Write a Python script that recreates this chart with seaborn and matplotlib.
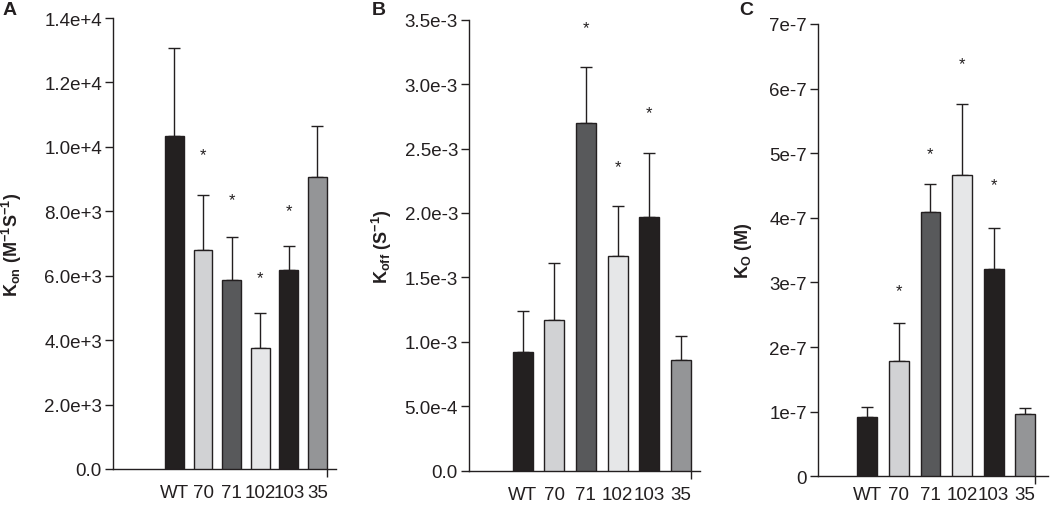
import matplotlib
matplotlib.use("Agg")
import matplotlib.pyplot as plt
import seaborn as sns
import pandas as pd
import numpy as np
from matplotlib.ticker import FixedLocator, FixedFormatter

# ---------------- data ----------------
categories = ["WT", "70", "71", "102", "103", "35"]
bar_colors = ["#231f20", "#d1d2d4", "#58595b", "#e6e7e8", "#231f20", "#939598"]

kon_mean = [10330, 6800, 5880, 3765, 6170, 9050]
kon_err = [2740, 1720, 1335, 1075, 745, 1590]
kon_star = [None, 9750, 8370, 5930, 8025, None]
kon_ticks = [0, 2000, 4000, 6000, 8000, 10000, 12000, 14000]
kon_ticklabels = ["0.0", "2.0e+3", "4.0e+3", "6.0e+3", "8.0e+3", "1.0e+4", "1.2e+4", "1.4e+4"]

koff_mean = [0.923e-3, 1.167e-3, 2.697e-3, 1.663e-3, 1.966e-3, 0.861e-3]
koff_err = [0.316e-3, 0.444e-3, 0.433e-3, 0.393e-3, 0.496e-3, 0.186e-3]
koff_star = [None, None, 3.44e-3, 2.358e-3, 2.775e-3, None]
koff_ticks = [0, 0.5e-3, 1.0e-3, 1.5e-3, 2.0e-3, 2.5e-3, 3.0e-3, 3.5e-3]
koff_ticklabels = ["0.0", "5.0e-4", "1.0e-3", "1.5e-3", "2.0e-3", "2.5e-3", "3.0e-3", "3.5e-3"]

kd_mean = [0.913e-7, 1.78e-7, 4.096e-7, 4.66e-7, 3.204e-7, 0.96e-7]
kd_err = [0.155e-7, 0.593e-7, 0.424e-7, 1.10e-7, 0.636e-7, 0.10e-7]
kd_star = [None, 2.88e-7, 5.0e-7, 6.38e-7, 4.52e-7, None]
kd_ticks = [0, 1e-7, 2e-7, 3e-7, 4e-7, 5e-7, 6e-7, 7e-7]
kd_ticklabels = ["0", "1e-7", "2e-7", "3e-7", "4e-7", "5e-7", "6e-7", "7e-7"]

panel_letters = ["A", "B", "C"]
ylabels = [r"$\mathbf{K_{on}\ (M^{-1}S^{-1})}$",
           r"$\mathbf{K_{off}\ (S^{-1})}$",
           r"$\mathbf{K_{O}\ (M)}$"]

# ---------------- style ----------------
sns.set_style("ticks")
plt.rcParams["font.family"] = ["Liberation Sans", "DejaVu Sans"]
plt.rcParams["mathtext.fontset"] = "custom"
plt.rcParams["mathtext.rm"] = "Liberation Sans"
plt.rcParams["mathtext.bf"] = "Liberation Sans:bold"
plt.rcParams["mathtext.it"] = "Liberation Sans:italic"

ink = "#231f20"
W, H = 1050, 506
fig = plt.figure(figsize=(W / 100, H / 100), dpi=100)

panels = [
    dict(mean=kon_mean, err=kon_err, star=kon_star, ticks=kon_ticks, labels=kon_ticklabels,
         rect=(113, 470, 336, 19), xlim=(-2.15, 5.65), width=0.66, ylab_x=-0.40,
         letter_x=3, xpad=11),
    dict(mean=koff_mean, err=koff_err, star=koff_star, ticks=koff_ticks, labels=koff_ticklabels,
         rect=(469, 471.7, 700, 20.7), xlim=(-1.69, 5.6), width=0.63, ylab_x=-0.325,
         letter_x=372, xpad=11),
    dict(mean=kd_mean, err=kd_err, star=kd_star, ticks=kd_ticks, labels=kd_ticklabels,
         rect=(818.3, 477.3, 1048, 25), xlim=(-1.55, 5.72), width=0.63, ylab_x=-0.28,
         letter_x=739, xpad=7),
]

for i, p in enumerate(panels):
    x0, y0, x1, y1 = p["rect"]
    ax = fig.add_axes([x0 / W, 1 - y0 / H, (x1 - x0) / W, (y0 - y1) / H])
    df = pd.DataFrame({"cat": categories, "val": p["mean"]})
    sns.barplot(data=df, x="cat", y="val", hue="cat", palette=bar_colors,
                order=categories, hue_order=categories, legend=False,
                width=p["width"], edgecolor=ink, linewidth=1.0, ax=ax, zorder=3)
    xs = np.arange(len(categories))
    ax.errorbar(xs, p["mean"], yerr=[np.zeros(len(xs)), p["err"]], fmt="none",
                ecolor=ink, elinewidth=1.0, capsize=4.5, capthick=1.0, zorder=2)
    for xi, s in zip(xs, p["star"]):
        if s is not None:
            ax.text(xi, s, "*", ha="center", va="center", fontsize=12, color=ink)
    ax.set_xlim(*p["xlim"])
    ax.set_ylim(p["ticks"][0], p["ticks"][-1])
    ax.yaxis.set_major_locator(FixedLocator(p["ticks"]))
    ax.yaxis.set_major_formatter(FixedFormatter(p["labels"]))
    ax.set_xticks(xs)
    ax.set_xticklabels(categories)
    ax.xaxis.set_minor_locator(FixedLocator([len(categories) - 1 + p["width"] / 2]))
    ax.tick_params(axis="x", which="major", length=0, pad=p["xpad"], labelsize=13.5, colors=ink)
    ax.tick_params(axis="x", which="minor", length=6, width=1.0, direction="out", color=ink)
    ax.tick_params(axis="y", length=6, width=1.0, direction="out", labelsize=13.5, colors=ink, pad=2)
    ax.set_xlabel("")
    ax.set_ylabel(ylabels[i], fontsize=13, color=ink)
    ax.yaxis.set_label_coords(p["ylab_x"], 0.5)
    sns.despine(ax=ax)
    for sp in ("left", "bottom"):
        ax.spines[sp].set_linewidth(1.0)
        ax.spines[sp].set_color(ink)
    ax.patch.set_alpha(0)
    fig.text(p["letter_x"] / W, 1 - 2 / H, panel_letters[i], ha="left", va="top",
             fontsize=14, fontweight="bold", color=ink)

fig.savefig("out.png", dpi=100)
